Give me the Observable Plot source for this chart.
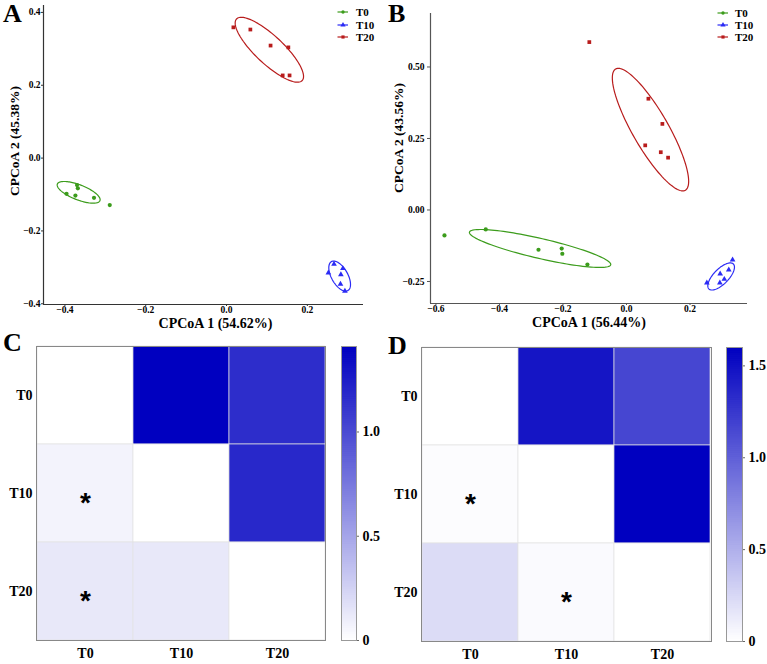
<!DOCTYPE html>
<html><head><meta charset="utf-8">
<script src="https://cdn.jsdelivr.net/npm/d3@7"></script>
<script src="https://cdn.jsdelivr.net/npm/@observablehq/plot@0.6"></script>
<style>
body{margin:0;background:#fff;}
#fig{position:relative;width:767px;height:664px;overflow:hidden;background:#fff;font-family:"Liberation Serif","Times New Roman",serif;font-weight:bold;color:#000;}
#fig svg{position:absolute;background:transparent;}
.letter{position:absolute;font-size:26px;line-height:26px;font-weight:bold;}
.leg{position:absolute;font-size:11px;line-height:12px;display:flex;align-items:center;white-space:nowrap;}
.leg svg{position:static !important;}
</style></head><body><div id="fig"></div>
<script>
const groups = ["T0","T10","T20"];
const groupColors = ["#3c9c1c","#2b2bf5","#b81c1c"];
const groupSymbols = ["circle","triangle","square"];

// Panel A (CPCoA)
const aT0  = [[-0.396,-0.098],[-0.374,-0.103],[-0.370,-0.074],[-0.368,-0.083],[-0.328,-0.109],[-0.289,-0.129]];
const aT10 = [[0.266,-0.291],[0.288,-0.303],[0.252,-0.315],[0.283,-0.320],[0.282,-0.346],[0.293,-0.365]];
const aT20 = [[0.017,0.359],[0.059,0.353],[0.109,0.309],[0.153,0.304],[0.139,0.227],[0.156,0.227]];
// ellipse: centre x, centre y, semi-axis 1 (dx,dy), semi-axis 2 (dx,dy), in data units
const aEllipses = [[-0.366,-0.094,0.0527,-0.0228,0.0068,0.0192],[0.280,-0.324,0.0203,-0.0398,0.0176,0.011],[0.106,0.2975,0.0812,-0.0846,0.0238,0.028]];
const aXTicks = [-0.4,-0.2,0,0.2];
const aYTicks = [-0.4,-0.2,0,0.2,0.4];
const aXLabel = "CPCoA 1 (54.62%)";
const aYLabel = "CPCoA 2 (45.38%)";

// Panel B (CPCoA)
const bT0  = [[-0.573,-0.089],[-0.443,-0.068],[-0.277,-0.139],[-0.204,-0.135],[-0.202,-0.153],[-0.123,-0.191]];
const bT10 = [[0.334,-0.174],[0.322,-0.209],[0.295,-0.223],[0.308,-0.242],[0.253,-0.2545],[0.294,-0.2545]];
const bT20 = [[-0.117,0.587],[0.069,0.389],[0.113,0.301],[0.059,0.226],[0.108,0.202],[0.131,0.183]];
const bEllipses = [[-0.272,-0.1346,0.2224,-0.057,0.0071,0.034],[0.298,-0.2325,0.0384,0.0437,0.0169,-0.0183],[0.0756,0.281,0.1097,-0.212,0.049,0.0313]];
const bXTicks = [-0.6,-0.4,-0.2,0,0.2];
const bYTicks = [-0.25,0,0.25,0.5];
const bXLabel = "CPCoA 1 (56.44%)";
const bYLabel = "CPCoA 2 (43.56%)";

// Panel C / D heatmaps: rows T0,T10,T20 ; columns T0,T10,T20
const cValues = [[0,1.41,1.16],[0.066,0,1.19],[0.127,0.125,0]];
const cStars = [[1,0],[2,0]];
const cBarTicks = [0,0.5,1.0];
const dValues = [[0,1.47,1.16],[0.02,0,1.60],[0.22,0.03,0]];
const dStars = [[1,0],[2,1]];
const dBarTicks = [0,0.5,1.0,1.5];
const heatRange = ["#ffffff","#0000c0"];

const fig = document.getElementById("fig");
const FONT = "Liberation Serif";

function place(el, left, top){ el.style.left = left+"px"; el.style.top = top+"px"; fig.appendChild(el); }

function pcoa(o){
  const pts = [];
  [o.t0,o.t10,o.t20].forEach((arr,gi)=>arr.forEach(p=>pts.push({group:groups[gi],x:p[0],y:p[1]})));
  const ell = [];
  o.ell.forEach((e,gi)=>{
    for(let i=0;i<=120;i++){const t=2*Math.PI*i/120;
      ell.push({group:groups[gi],x:e[0]+e[2]*Math.cos(t)+e[4]*Math.sin(t),y:e[1]+e[3]*Math.cos(t)+e[5]*Math.sin(t)});}
  });
  return Plot.plot({
    width:o.width,height:o.height,marginLeft:o.ml,marginRight:o.mr,marginTop:o.mt,marginBottom:o.mb,
    style:{fontFamily:FONT,fontWeight:"bold",fontSize:"9.5px",background:"transparent",color:"#000"},
    x:{domain:o.xDomain},y:{domain:o.yDomain},
    color:{domain:groups,range:groupColors},
    symbol:{domain:groups,range:groupSymbols},
    marks:[
      Plot.ruleX([o.xDomain[0]],{stroke:o.axisColor,strokeWidth:1.2}),
      Plot.ruleY([o.yDomain[0]],{stroke:o.axisColor,strokeWidth:1.2}),
      Plot.line(ell,{x:"x",y:"y",z:"group",stroke:"group",strokeWidth:1.2}),
      Plot.dot(pts,{x:"x",y:"y",fill:"group",symbol:"group",r:2.1}),
      Plot.axisX({ticks:o.xTicks,tickSize:2,tickPadding:0,tickFormat:d3.format(".1f"),label:null,stroke:o.axisColor}),
      Plot.axisY({ticks:o.yTicks,tickSize:o.yTickSize,tickPadding:o.yTickPad,tickFormat:d3.format(o.yFmt),label:null,stroke:o.axisColor}),
      Plot.text([o.xLabel],{frameAnchor:"bottom",dx:o.xLabelDx,dy:o.xLabelDy,fontSize:14}),
      Plot.text([o.yLabel],{frameAnchor:"left",textAnchor:"middle",dx:o.yLabelDx,dy:o.yLabelDy,rotate:-90,fontSize:13.5})
    ]
  });
}

function heat(o){
  const cells = [];
  groups.forEach((r,i)=>groups.forEach((c,j)=>cells.push({row:r,col:c,value:o.values[i][j]})));
  const max = d3.max(o.values.flat());
  return Plot.plot({
    width:o.width,height:o.height,marginLeft:o.ml,marginRight:o.mr,marginTop:o.mt,marginBottom:o.mb,
    style:{fontFamily:FONT,fontWeight:"bold",fontSize:"14px",background:"transparent",color:"#000"},
    x:{domain:groups,padding:0},y:{domain:groups,padding:0},
    color:{type:"linear",domain:[0,max],range:heatRange,interpolate:"rgb"},
    marks:[
      Plot.cell(cells,{x:"col",y:"row",fill:"value",stroke:"#e2e2e2",strokeWidth:0.7}),
      Plot.text(o.stars,{x:d=>groups[d[1]],y:d=>groups[d[0]],text:()=>"*",fontSize:28,fontFamily:"Liberation Sans",dy:10}),
      Plot.frame({stroke:"#888"}),
      Plot.axisX({tickSize:0,tickPadding:8,label:null}),
      Plot.axisY({tickSize:0,tickPadding:4,label:null})
    ]
  });
}

function colorbar(o){
  const max = d3.max(o.values.flat());
  const n = 150;
  const steps = d3.range(n).map(i=>[i*max/n,(i+1)*max/n]);
  return Plot.plot({
    width:o.width,height:o.height,marginLeft:o.ml,marginRight:o.mr,marginTop:o.mt,marginBottom:o.mb,
    style:{fontFamily:FONT,fontWeight:"bold",fontSize:"14px",background:"transparent",color:"#000"},
    x:{domain:[0,1],axis:null},y:{domain:[0,max]},
    color:{type:"linear",domain:[0,max],range:heatRange,interpolate:"rgb"},
    marks:[
      Plot.rect(steps,{x1:0,x2:1,y1:d=>d[0],y2:d=>Math.min(max,d[1]+max/n*0.5),fill:d=>(d[0]+d[1])/2}),
      Plot.frame({stroke:"#999"}),
      Plot.axisY({anchor:"right",ticks:o.ticks,tickSize:2,tickPadding:4,tickFormat:d=>d===0?"0":d3.format(".1f")(d),label:null,stroke:"#666"})
    ]
  });
}

function legend(left, rows, gap){
  groups.forEach((g,i)=>{
    const div = document.createElement("div");
    div.className = "leg";
    const sym = [d3.symbolCircle,d3.symbolTriangle,d3.symbolSquare][i];
    const size = [9,12,10][i];
    div.innerHTML = `<svg width="12" height="10"><line x1="0.5" x2="11" y1="5" y2="5" stroke="${groupColors[i]}" stroke-width="1.2"/><path transform="translate(6,5)" d="${d3.symbol(sym,size)()}" fill="${groupColors[i]}"/></svg><span style="margin-left:${gap}px">${g}</span>`;
    place(div, left, rows[i]-6);
  });
}

function letter(t,left,top){const d=document.createElement("div");d.className="letter";d.textContent=t;place(d,left,top);}

// A
place(pcoa({t0:aT0,t10:aT10,t20:aT20,ell:aEllipses,width:383,height:334,ml:43,mr:20,mt:5,mb:30,
  xDomain:[-0.453,0.339],yDomain:[-0.402,0.419],xTicks:aXTicks,yTicks:aYTicks,yFmt:".1f",yTickSize:2,yTickPad:1,
  xLabel:aXLabel,yLabel:aYLabel,xLabelDx:12,xLabelDy:23,yLabelDx:-29,yLabelDy:-14,axisColor:"#333"}),0,0);
// B
place(pcoa({t0:bT0,t10:bT10,t20:bT20,ell:bEllipses,width:384,height:334,ml:47,mr:20,mt:13,mb:31,
  xDomain:[-0.617,0.381],yDomain:[-0.327,0.687],xTicks:bXTicks,yTicks:bYTicks,yFmt:".2f",yTickSize:3,yTickPad:3,
  xLabel:bXLabel,yLabel:bYLabel,xLabelDx:0,xLabelDy:23.5,yLabelDx:-31.5,yLabelDy:-20.5,axisColor:"#555"}),383,0);
// C
place(heat({values:cValues,stars:cStars,width:383,height:354,ml:36,mr:58,mt:36,mb:24}),0,310);
place(colorbar({values:cValues,ticks:cBarTicks,width:43,height:354,ml:1,mr:27,mt:36,mb:24}),340,310);
// D
place(heat({values:dValues,stars:dStars,width:384,height:354,ml:38,mr:56,mt:37,mb:23}),383,310);
place(colorbar({values:dValues,ticks:dBarTicks,width:42,height:354,ml:1,mr:25,mt:37,mb:23}),725,310);

legend(337,[12.3,24.7,37],7);
legend(717,[13.3,25,37.3],6);

letter("A",3,1.2);
letter("B",388,1.2);
letter("C",3,330);
letter("D",388,333);
</script></body></html>
